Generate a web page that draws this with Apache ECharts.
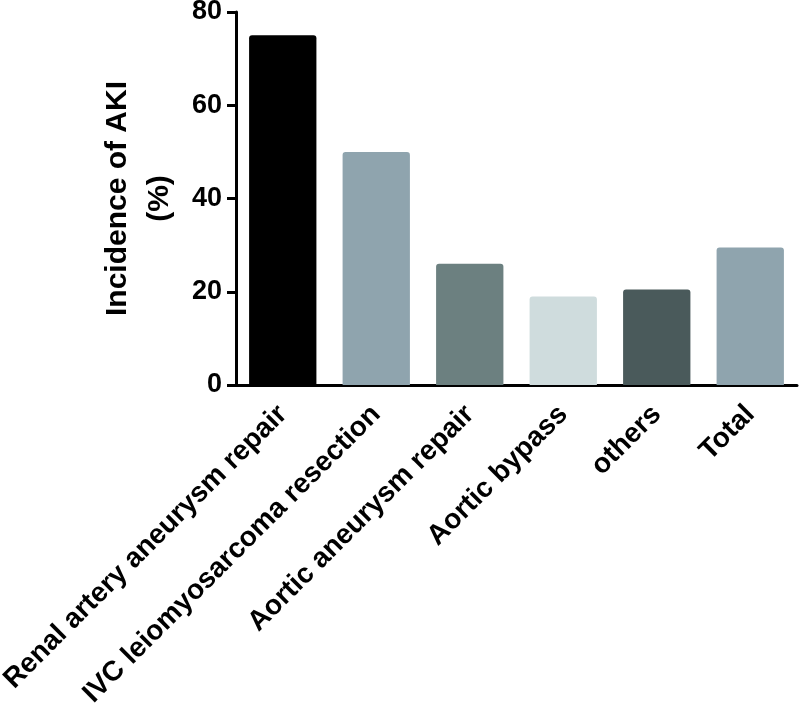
<!DOCTYPE html>
<html>
<head>
<meta charset="utf-8">
<script src="https://cdn.jsdelivr.net/npm/echarts@6/dist/echarts.min.js"></script>
<style>html,body{margin:0;padding:0;background:#fff}#c{width:800px;height:708px}</style>
</head>
<body>
<div id="c"></div>
<script>
const categories = ['Renal artery aneurysm repair', 'IVC leiomyosarcoma resection', 'Aortic aneurysm repair', 'Aortic bypass', 'others', 'Total'];
const values = [75, 50, 26, 19, 20.5, 29.5];
const yTicks = [0, 20, 40, 60, 80];
const barColors = ['#000000', '#8fa4ae', '#6c8080', '#cfdcdd', '#4a5a5b', '#8fa4ae'];

const font = 'Liberation Sans, Arial, sans-serif';
const chart = echarts.init(document.getElementById('c'));
chart.setOption({
  animation: false,
  backgroundColor: '#fff',
  grid: { left: 236, right: 3, top: 12, bottom: 323, outerBoundsMode: 'none', containLabel: false },
  xAxis: {
    type: 'category',
    data: categories,
    axisLine: { lineStyle: { color: '#000', width: 3 } },
    axisTick: { alignWithLabel: true, length: 9, lineStyle: { color: '#000', width: 3 } },
    axisLabel: { rotate: 45, margin: 25, color: '#000', fontSize: 28, fontWeight: 'bold', fontFamily: font, interval: 0 }
  },
  yAxis: {
    type: 'value',
    min: yTicks[0],
    max: yTicks[yTicks.length - 1],
    interval: yTicks[1] - yTicks[0],
    name: 'Incidence of AKI\n(%)',
    nameLocation: 'middle',
    nameGap: 44,
    nameRotate: 90,
    nameTextStyle: { color: '#000', fontSize: 30, fontWeight: 'bold', fontFamily: font, lineHeight: 42 },
    splitLine: { show: false },
    axisLine: { show: true, lineStyle: { color: '#000', width: 3 } },
    axisTick: { show: true, length: 9, lineStyle: { color: '#000', width: 3 } },
    axisLabel: { margin: 14, color: '#000', fontSize: 27, fontWeight: 'bold', fontFamily: font }
  },
  series: [{
    type: 'bar',
    barCategoryGap: '28%',
    data: values.map((v, i) => ({ value: v, itemStyle: { color: barColors[i], borderRadius: [3, 3, 0, 0] } }))
  }]
});
</script>
</body>
</html>
